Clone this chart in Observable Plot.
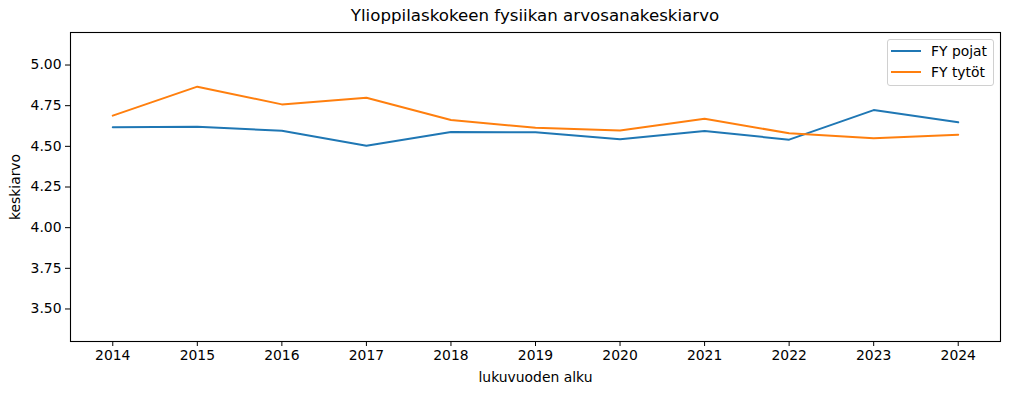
<!DOCTYPE html>
<html>
<head>
<meta charset="utf-8">
<script src="https://cdn.jsdelivr.net/npm/d3@7"></script>
<script src="https://cdn.jsdelivr.net/npm/@observablehq/plot@0.6"></script>
<style>
  html, body { margin: 0; padding: 0; background: #fff; }
  body { width: 1009px; height: 393px; position: relative; overflow: hidden; font-family: "DejaVu Sans", sans-serif; }
  #title { position: absolute; left: 70px; width: 930px; top: 6px; text-align: center; font-size: 16.67px; color: #000; }
  #chart { position: absolute; left: 0; top: 0; }
  #legend { position: absolute; left: 887px; top: 39px; width: 105px; height: 45px; border: 1px solid #d0d0d0; border-radius: 3px; background: rgba(255,255,255,0.8); font-size: 13.9px; }
  .row { position: absolute; left: 3px; height: 20px; display: flex; align-items: center; }
  .sw { width: 30px; height: 2px; margin-right: 10px; }
</style>
</head>
<body>
<div id="chart"></div>
<div id="title">Ylioppilaskokeen fysiikan arvosanakeskiarvo</div>
<div id="legend"></div>
<script>
const years = [2014, 2015, 2016, 2017, 2018, 2019, 2020, 2021, 2022, 2023, 2024];
const pojat = [4.617, 4.621, 4.596, 4.504, 4.588, 4.586, 4.543, 4.594, 4.541, 4.723, 4.648];
const tytot = [4.689, 4.867, 4.758, 4.799, 4.662, 4.614, 4.598, 4.670, 4.580, 4.549, 4.571];
const seriesNames = ["FY pojat", "FY tytöt"];
const seriesColors = ["#1f77b4", "#ff7f0e"];
const yTicks = [3.50, 3.75, 4.00, 4.25, 4.50, 4.75, 5.00];

const data = [];
[pojat, tytot].forEach((vals, si) => {
  vals.forEach((v, i) => data.push({ year: years[i], value: v, series: seriesNames[si] }));
});

const chart = Plot.plot({
  width: 1009,
  height: 393,
  marginTop: 32,
  marginBottom: 52,
  marginLeft: 70,
  marginRight: 9,
  style: { fontFamily: "DejaVu Sans, sans-serif", fontSize: "13.9px", color: "#000", background: "#fff" },
  x: { domain: [2013.5, 2024.5] },
  y: { domain: [3.3, 5.2] },
  color: { domain: seriesNames, range: seriesColors },
  marks: [
    Plot.frame({ stroke: "#000", strokeWidth: 1.1 }),
    Plot.axisX({ ticks: years, tickFormat: d => String(d), tickSize: 5, tickPadding: 4, fontSize: 13.9,
      label: "lukuvuoden alku", labelAnchor: "center", labelArrow: "none", labelOffset: 40 }),
    Plot.axisY({ ticks: yTicks, tickFormat: d => d.toFixed(2), tickSize: 5, tickPadding: 4, fontSize: 13.9,
      label: "keskiarvo", labelAnchor: "center", labelArrow: "none", labelOffset: 60 }),
    Plot.line(data, { x: "year", y: "value", z: "series", stroke: "series", strokeWidth: 2 })
  ]
});
document.getElementById("chart").appendChild(chart);

const legend = document.getElementById("legend");
seriesNames.forEach((name, i) => {
  const row = document.createElement("div");
  row.className = "row";
  row.style.top = (1 + i * 20.7) + "px";
  row.innerHTML = `<div class="sw" style="background:${seriesColors[i]}"></div><span>${name}</span>`;
  legend.appendChild(row);
});
</script>
</body>
</html>
